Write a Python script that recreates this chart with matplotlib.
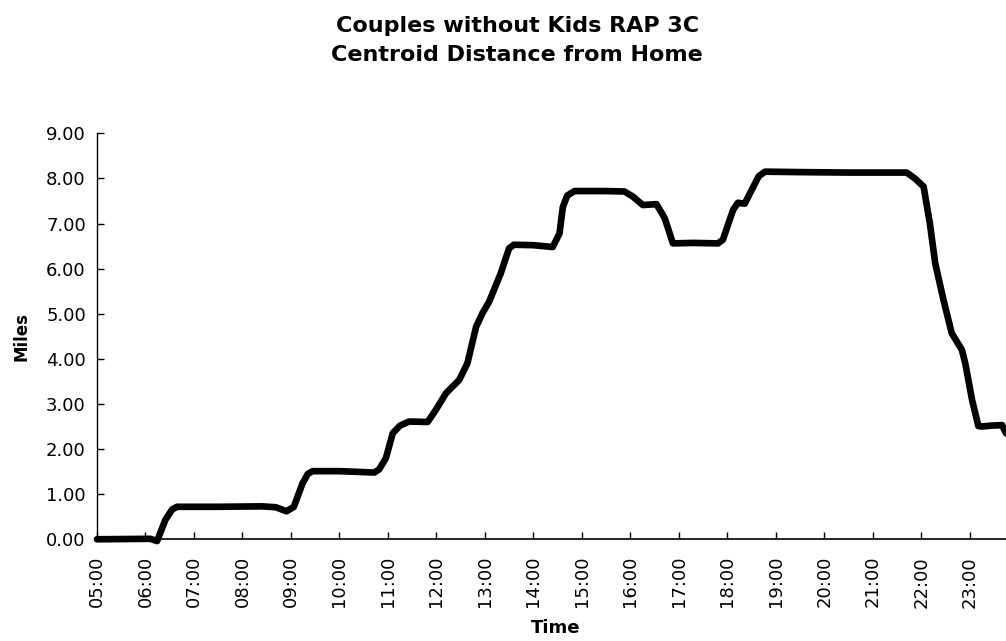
import matplotlib.pyplot as plt

plt.rcParams['font.family'] = ['DejaVu Sans']

# hours (decimal) and miles
hours = [5.00, 6.10, 6.24, 6.41, 6.55, 6.65, 7.50, 8.40, 8.69, 8.91, 9.06, 9.24, 9.35, 9.45,
         10.00, 10.72, 10.82, 10.96, 11.10, 11.25, 11.44, 11.82, 11.99, 12.20, 12.47,
         12.64, 12.82, 12.95, 13.09, 13.33, 13.50, 13.60, 14.00, 14.40, 14.54, 14.61,
         14.70, 14.85, 15.50, 15.88, 16.05, 16.26, 16.54, 16.71, 16.88, 17.30,
         17.81, 17.91, 18.12, 18.22, 18.36, 18.65, 18.78, 19.50, 20.50, 21.70, 21.87,
         22.05, 22.18, 22.29, 22.46, 22.63, 22.84, 22.91, 23.05, 23.18, 23.25, 23.45,
         23.67, 23.75]
miles = [0.00, 0.01, -0.04, 0.43, 0.66, 0.72, 0.72, 0.73, 0.71, 0.62, 0.72, 1.24, 1.45, 1.51,
         1.51, 1.48, 1.55, 1.80, 2.35, 2.52, 2.61, 2.60, 2.87, 3.24, 3.53,
         3.90, 4.71, 5.01, 5.27, 5.90, 6.45, 6.53, 6.52, 6.48, 6.78, 7.37,
         7.62, 7.72, 7.72, 7.71, 7.60, 7.41, 7.43, 7.12, 6.56, 6.57,
         6.56, 6.64, 7.30, 7.46, 7.44, 8.05, 8.15, 8.14, 8.13, 8.13, 8.00,
         7.82, 7.00, 6.12, 5.31, 4.57, 4.20, 3.90, 3.09, 2.51, 2.50, 2.52,
         2.53, 2.35]

tick_hours = list(range(5, 24))
tick_labels = ['%02d:00' % h for h in tick_hours]
y_ticks = [0, 1, 2, 3, 4, 5, 6, 7, 8, 9]

fig = plt.figure(figsize=(10.06, 6.41), dpi=100)
ax = fig.add_axes([0.0964, 0.1587, 0.9036, 0.6333])

ax.plot(hours, miles, color='black', linewidth=4.8, solid_capstyle='round',
        solid_joinstyle='round', clip_on=False)

ax.set_xlim(5, 23.75)
ax.set_ylim(0, 9)
ax.set_xticks(tick_hours)
ax.set_xticklabels(tick_labels, rotation=90, fontsize=13)
ax.set_yticks(y_ticks)
ax.set_yticklabels(['%.2f' % v for v in y_ticks], fontsize=13)
ax.tick_params(direction='in', length=5, width=1)
ax.tick_params(axis='x', pad=12)
ax.tick_params(axis='y', pad=8)

ax.spines['top'].set_visible(False)
ax.spines['right'].set_visible(False)
ax.spines['left'].set_linewidth(1)
ax.spines['bottom'].set_linewidth(1.2)

ax.set_ylabel('Miles', fontsize=12, fontweight='bold')
ax.yaxis.set_label_coords(-0.073, 0.5)
ax.set_xlabel('Time', fontsize=13, fontweight='bold')
ax.xaxis.set_label_coords(0.505, -0.197)

fig.text(0.514, 1 - 31.7 / 641, 'Couples without Kids RAP 3C',
         ha='center', va='baseline', fontsize=16, fontweight='bold')
fig.text(0.514, 1 - 60.7 / 641, 'Centroid Distance from Home',
         ha='center', va='baseline', fontsize=16, fontweight='bold')

plt.savefig('out.png', dpi=100)
